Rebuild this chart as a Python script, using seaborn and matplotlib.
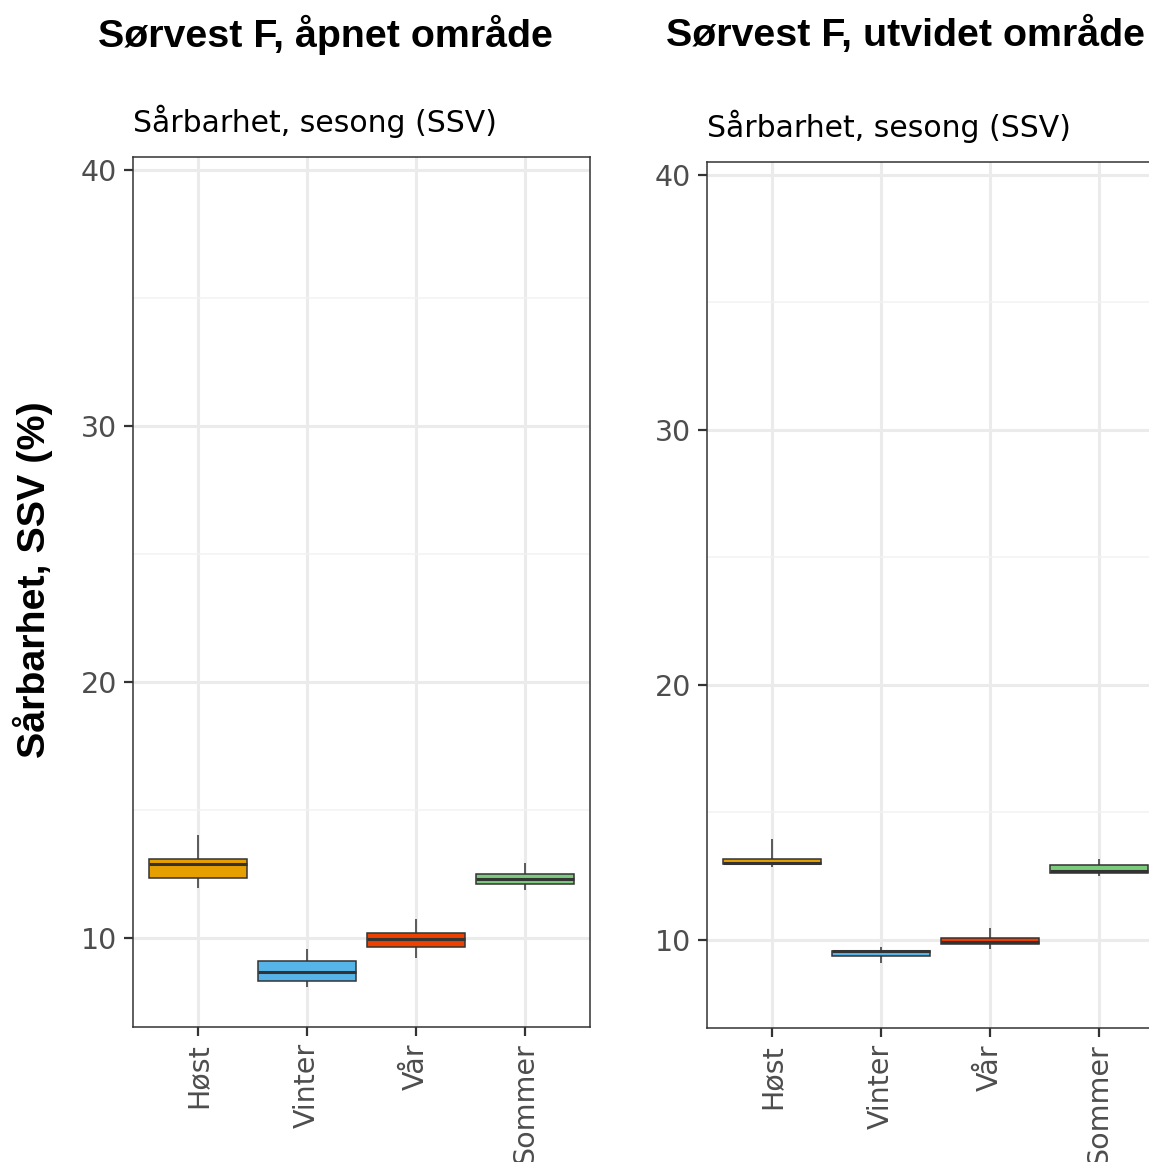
import numpy as np
import pandas as pd
import matplotlib
matplotlib.use("Agg")
import matplotlib.pyplot as plt
from matplotlib.ticker import MultipleLocator
import seaborn as sns

# Sesonger og farger
sesonger = ["Høst", "Vinter", "Vår", "Sommer"]
farger = ["#E69F00", "#56B4E9", "#EE4000", "#7CCB7D"]

# Fem-tallssammendrag per sesong: [min, q1, median, q3, maks]
apnet_host = [11.96, 12.33, 12.89, 13.10, 14.02]
apnet_vinter = [8.07, 8.33, 8.66, 9.11, 9.56]
apnet_var = [9.22, 9.66, 9.96, 10.18, 10.73]
apnet_sommer = [11.88, 12.09, 12.30, 12.51, 12.92]

utvidet_host = [12.87, 12.97, 13.02, 13.19, 13.95]
utvidet_vinter = [9.09, 9.38, 9.55, 9.58, 9.71]
utvidet_var = [9.64, 9.84, 9.92, 10.09, 10.46]
utvidet_sommer = [12.52, 12.64, 12.72, 12.95, 13.18]

titler = ["Sørvest F, åpnet område", "Sørvest F, utvidet område"]
undertittel = "Sårbarhet, sesong (SSV)"
y_etikett = "Sårbarhet, SSV (%)"
y_ticks = [10, 20, 30, 40]


def lag_tabell(verdier):
    rader = []
    for sesong, v in zip(sesonger, verdier):
        for x in v:
            rader.append({"Sesong": sesong, "SSV": x})
    return pd.DataFrame(rader)


data_apnet = lag_tabell([apnet_host, apnet_vinter, apnet_var, apnet_sommer])
data_utvidet = lag_tabell([utvidet_host, utvidet_vinter, utvidet_var, utvidet_sommer])

sns.set_theme(style="whitegrid")
plt.rcParams["font.family"] = ["DejaVu Sans"]
plt.rcParams["text.color"] = "black"

W, H = 1149, 1162
fig = plt.figure(figsize=(W / 100, H / 100), dpi=100)

# akseposisjoner i piksler (venstre, topp, høyre, bunn)
posisjoner = [(133, 157, 590, 1027), (707, 162, 1164, 1028)]
ylims = [(6.52, 40.5), (6.55, 40.5)]
palett = dict(zip(sesonger, farger))

for i, (data, (x0, y0, x1, y1)) in enumerate(zip([data_apnet, data_utvidet], posisjoner)):
    ax = fig.add_axes([x0 / W, 1 - y1 / H, (x1 - x0) / W, (y1 - y0) / H])
    sns.boxplot(data=data, x="Sesong", y="SSV", hue="Sesong", palette=palett,
                order=sesonger, whis=(0, 100), width=0.9, linecolor="#333333",
                linewidth=1.1, showcaps=False, legend=False, ax=ax, saturation=1,
                medianprops={"linewidth": 2.2, "color": "#333333"},
                boxprops={"edgecolor": "#333333"})
    ax.set_xlim(-0.6, 3.6)
    ax.set_ylim(*ylims[i])
    ax.set_yticks(y_ticks)
    ax.yaxis.set_minor_locator(MultipleLocator(5))
    ax.set_xlabel("")
    ax.set_ylabel("")
    ax.set_axisbelow(True)
    ax.grid(which="major", color="#EBEBEB", linewidth=2.2)
    ax.grid(which="minor", axis="y", color="#F2F2F2", linewidth=1.1)
    for s in ax.spines.values():
        s.set_edgecolor("#333333")
        s.set_linewidth(1.1)
    ax.tick_params(which="major", length=6.5, width=1.6, color="#333333",
                   labelsize=20.5, labelcolor="#4D4D4D", pad=5, left=True, bottom=True)
    ax.tick_params(which="minor", length=0)
    plt.setp(ax.get_xticklabels(), rotation=90, ha="center", va="top")
    fig.text(x0 / W, 1 - (y0 - 36) / H, undertittel, fontsize=21.5, color="black",
             ha="left", va="center")

fig.text(325 / W, 1 - 35 / H, titler[0], fontsize=28.4, fontweight="bold",
         family="Liberation Sans", ha="center", va="center")
fig.text(666 / W, 1 - 35 / H, titler[1], fontsize=28.4, fontweight="bold",
         family="Liberation Sans", ha="left", va="center")
fig.text(33 / W, 1 - 580 / H, y_etikett, fontsize=28.4, fontweight="bold",
         family="Liberation Sans", rotation=90, ha="center", va="center")

fig.savefig("out.png", dpi=100)
